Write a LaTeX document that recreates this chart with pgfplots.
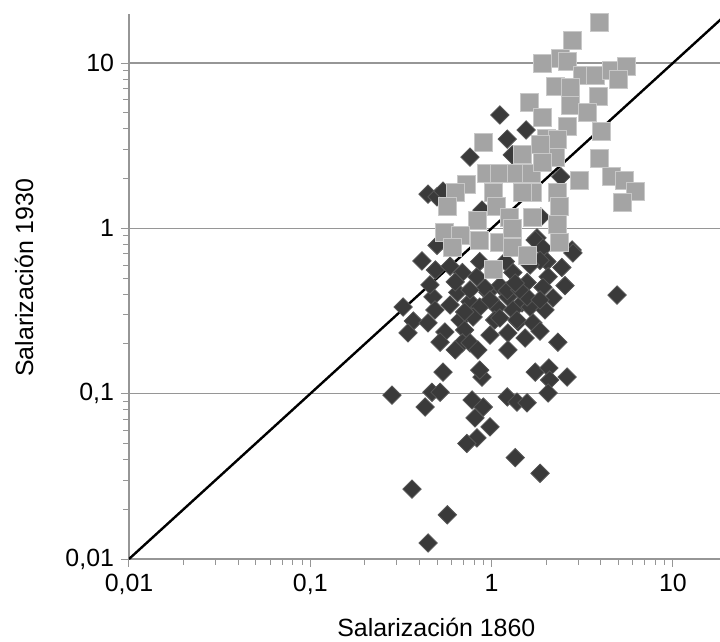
\documentclass[border=0pt]{standalone}
\usepackage{pgfplots}
\pgfplotsset{compat=1.18}
\usepackage{fontspec}
\setmainfont{Liberation Sans}
\definecolor{darkmark}{RGB}{58,58,58}
\definecolor{darkedge}{RGB}{85,85,85}
\definecolor{lightmark}{RGB}{164,164,164}
\definecolor{lightedge}{RGB}{200,200,200}
\definecolor{gridgray}{RGB}{150,150,150}

% Salarizacion 1860 vs 1930, two groups
\pgfplotstableread{
x y
1.11 4.85
1.55 3.94
1.22 3.47
0.76 2.70
2.41 2.05
0.446 1.61
0.50 1.55
0.54 1.68
0.885 1.29
1.87 1.17
1.78 0.875
1.30 2.78
0.50 0.79
1.74 0.85
1.92 0.76
2.78 0.74
0.413 0.635
0.49 0.56
0.59 0.59
0.69 0.54
0.83 0.51
2.44 0.58
2.02 0.63
1.31 0.54
1.11 0.45
1.57 0.47
2.05 0.51
2.54 0.45
0.475 0.385
0.65 0.41
0.76 0.36
0.955 0.41
1.23 0.385
1.47 0.354
1.92 0.44
2.18 0.38
4.92 0.395
0.325 0.334
0.487 0.321
0.86 0.334
1.07 0.334
1.31 0.321
1.63 0.334
0.37 0.275
0.446 0.268
0.67 0.279
0.79 0.291
1.04 0.279
1.40 0.272
1.69 0.268
0.346 0.233
0.553 0.236
0.71 0.243
0.98 0.226
1.23 0.233
1.85 0.239
0.52 0.205
0.69 0.203
1.23 0.184
2.32 0.205
0.54 0.135
0.885 0.126
1.74 0.135
2.07 0.143
2.09 0.121
2.61 0.126
0.282 0.098
0.469 0.102
0.52 0.102
0.43 0.083
0.78 0.0916
0.90 0.083
0.81 0.0713
0.98 0.063
0.83 0.054
0.73 0.050
1.22 0.0955
1.38 0.089
1.57 0.088
2.05 0.101
1.35 0.041
1.85 0.033
0.364 0.0265
0.57 0.0185
0.446 0.0125
0.86 0.139
2.81 0.71
1.85 0.64
0.92 0.436
1.22 0.42
1.57 0.385
1.38 0.279
0.76 0.203
0.63 0.474
0.98 0.369
1.43 0.424
1.63 0.60
0.86 0.63
1.19 0.63
0.71 0.312
1.97 0.321
1.11 0.287
1.53 0.217
0.84 0.184
0.63 0.184
0.76 0.424
1.35 0.467
1.85 0.369
0.457 0.455
0.59 0.344
}\darkdata

\pgfplotstableread{
x y
3.96 17.5
2.78 13.6
1.92 10.0
2.41 10.7
2.61 10.2
3.19 8.36
3.72 8.36
4.61 8.96
5.58 9.47
4.98 7.90
2.24 7.17
2.71 7.07
3.91 6.24
1.61 5.74
2.71 5.50
3.40 4.99
1.90 4.66
2.61 4.11
4.06 3.83
2.02 3.52
0.90 3.29
1.49 2.78
2.24 2.70
3.96 2.63
3.07 1.96
4.61 2.05
5.44 1.96
6.18 1.66
5.24 1.44
0.94 2.16
1.11 2.16
1.38 2.16
1.67 2.16
1.90 2.49
0.73 1.83
0.63 1.64
0.57 1.35
1.02 1.64
2.30 1.64
2.38 1.35
1.07 1.35
0.84 1.12
1.26 1.17
1.69 1.17
2.30 1.05
0.553 0.94
0.67 0.91
0.61 0.77
0.86 0.85
1.11 0.82
1.31 0.77
1.57 0.69
2.38 0.82
1.02 0.56
1.31 1.00
1.69 1.64
1.49 1.64
2.30 3.43
1.85 3.20
}\lightdata

\begin{document}
\begin{tikzpicture}
\begin{axis}[
    at={(0,0)}, anchor=south west,
    scale only axis,
    width=295.5bp, height=272.5bp,
    xmode=log, ymode=log,
    xmin=0.01, xmax=18.19,
    ymin=0.01, ymax=19.8,
    axis x line*=bottom, axis y line*=left,
    axis line style={draw=gridgray, line width=0.75bp},
    xtick={0.01,0.1,1,10},
    xticklabels={{0,01},{0,1},{1},{10}},
    ytick={0.01,0.1,1,10},
    yticklabels={{0,01},{0,1},{1},{10}},
    minor xtick={}, minor ytick={},
    ymajorgrids,
    major grid style={draw=gridgray, line width=0.75bp},
    tick align=outside,
    major tick length=4bp,
    tick style={draw=gridgray, line width=0.5bp},
    ticklabel style={font=\fontsize{12.5}{15}\selectfont},
    every axis x label/.style={at={(axis description cs:0.52,-0.1431)}, anchor=base},
    every axis y label/.style={at={(axis description cs:-0.1624,0.516)}, rotate=90, anchor=base},
    label style={font=\fontsize{12.5}{15}\selectfont},
    xlabel={Salarización 1860},
    ylabel={Salarización 1930},
]
\addplot[only marks, mark=square*, mark size=3.25bp,
    mark options={rotate=45, fill=darkmark, draw=darkedge, line width=0.4bp}]
    table[x=x, y=y] {\darkdata};
\addplot[only marks, mark=square*, mark size=4.5bp,
    mark options={fill=lightmark, draw=lightedge, line width=0.5bp}]
    table[x=x, y=y] {\lightdata};
\addplot[black, line width=1.2bp] coordinates {(0.01,0.01) (20,20)};
\end{axis}
\pgfresetboundingbox
\path[use as bounding box] (-64.5bp,-41.5bp) rectangle (295.5bp,279.5bp);
\end{tikzpicture}
\end{document}
